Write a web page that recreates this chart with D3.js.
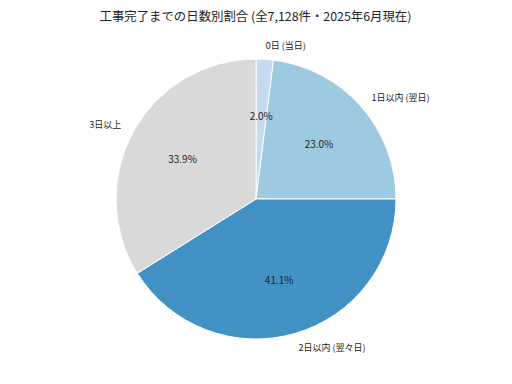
<!DOCTYPE html>
<html><head><meta charset="utf-8">
<script src="https://cdn.jsdelivr.net/npm/d3@7"></script>
<style>body{margin:0;background:#fff}svg{display:block}text{font-family:"Noto Sans CJK JP","Noto Sans",sans-serif;fill:#222}</style>
</head><body><svg id="c" width="512" height="384"></svg>
<script>
const title = "工事完了までの日数別割合 (全7,128件・2025年6月現在)";
const categories = ["0日 (当日)", "1日以内 (翌日)", "2日以内 (翌々日)", "3日以上"];
const values = [2.0, 23.0, 41.1, 33.9];
const colors = ["#c6dbef", "#9ecae1", "#4292c6", "#d9d9d9"];

const svg = d3.select("#c");
const cx = 256, cy = 199, r = 140;
const data = categories.map((c, i) => ({c, v: values[i], col: colors[i]}));
const pie = d3.pie().value(d => d.v).sort(null);
const arcs = pie(data);
const arc = d3.arc().innerRadius(0).outerRadius(r);
const g = svg.append("g").attr("transform", `translate(${cx},${cy})`);
g.selectAll("path").data(arcs).join("path")
  .attr("d", arc).attr("fill", d => d.data.col)
  .attr("stroke", "#fff").attr("stroke-width", 1);
const mid = d => (d.startAngle + d.endAngle) / 2;
g.selectAll("text.lab").data(arcs).join("text").attr("class", "lab")
  .attr("x", d => 1.1 * r * Math.sin(mid(d)))
  .attr("y", d => -1.1 * r * Math.cos(mid(d)))
  .attr("text-anchor", d => Math.sin(mid(d)) >= 0 ? "start" : "end")
  .attr("dominant-baseline", "central")
  .attr("font-size", 9).text(d => d.data.c);
g.selectAll("text.pct").data(arcs).join("text").attr("class", "pct")
  .attr("x", d => 0.6 * r * Math.sin(mid(d)))
  .attr("y", d => -0.6 * r * Math.cos(mid(d)))
  .attr("text-anchor", "middle").attr("dominant-baseline", "central")
  .attr("font-size", 10).text(d => d.data.v.toFixed(1) + "%");
svg.append("text").attr("x", 255.5).attr("y", 15.5).attr("text-anchor", "middle")
  .attr("dominant-baseline", "central").attr("font-size", 12.4).text(title);
</script></body></html>
